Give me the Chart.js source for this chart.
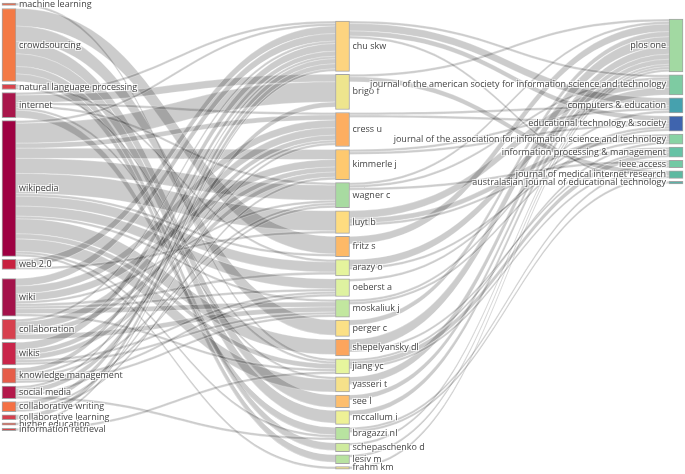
<!DOCTYPE html>
<html><head><meta charset="utf-8">
<script src="https://cdn.jsdelivr.net/npm/chart.js@4.4.1/dist/chart.umd.min.js"></script>
<style>html,body{margin:0;padding:0;background:#fff;}#wrap{width:685px;height:474px;}</style>
</head><body><div id="wrap"><canvas id="c" width="685" height="474"></canvas></div>
<script>
// ---------- DATA ----------
const keywords = ["machine learning","crowdsourcing","natural language processing","internet","wikipedia","web 2.0","wiki","collaboration","wikis","knowledge management","social media","collaborative writing","collaborative learning","higher education","information retrieval"];
const keywordColors = ["#ee6646","#f47a45","#d9434c","#a9164b","#9e0142","#c8213f","#a4124a","#d7404e","#c9254a","#e65d49","#b3194a","#f47044","#d5404e","#e25a49","#d9474b"];

const authors = ["chu skw","brigo f","cress u","kimmerle j","wagner c","luyt b","fritz s","arazy o","oeberst a","moskaliuk j","perger c","shepelyansky dl","jiang yc","yasseri t","see l","mccallum i","bragazzi nl","schepaschenko d","lesiv m","frahm km"];
const authorDocuments = [20,14,13.5,12,10,9,8,6.5,7,7,6.5,6.5,6,6,5,5.5,4.5,3.5,3.5,1];
const authorColors = ["#fdd480","#eee58e","#fdae61","#fec96f","#a8dba1","#fedc80","#fdb967","#e5f49d","#def2a0","#c2e79f","#fbe086","#fca55d","#e6f59d","#f6e18a","#fdbe6d","#eef196","#b8e3a0","#cfeb9e","#b8e2a0","#e8dd8a"];

const sources = ["plos one","journal of the american society for information science and technology","computers & education","educational technology & society","journal of the association for information science and technology","information processing & management","ieee access","journal of medical internet research","australasian journal of educational technology"];
const sourceColors = ["#a2d9a2","#7ecba2","#46a1ae","#3f64ae","#88d3a4","#66c2a5","#73c9a4","#5cb9a0","#5cb1a7"];

// keyword -> author : [keyword, author, value]
const keywordAuthorLinks = [
  ["machine learning","jiang yc",1],
  ["crowdsourcing","fritz s",7],["crowdsourcing","see l",5],["crowdsourcing","mccallum i",5],["crowdsourcing","perger c",6],["crowdsourcing","schepaschenko d",3],["crowdsourcing","lesiv m",3],
  ["natural language processing","jiang yc",1],["natural language processing","arazy o",1],
  ["internet","bragazzi nl",3],["internet","brigo f",3],["internet","chu skw",1],["internet","yasseri t",1],["internet","cress u",1],["internet","wagner c",1],
  ["wikipedia","brigo f",8],["wikipedia","wagner c",6],["wikipedia","luyt b",8],["wikipedia","arazy o",4],["wikipedia","yasseri t",5],["wikipedia","shepelyansky dl",6],["wikipedia","jiang yc",2],["wikipedia","bragazzi nl",1],["wikipedia","frahm km",1],["wikipedia","oeberst a",4],["wikipedia","chu skw",1],["wikipedia","cress u",2],["wikipedia","kimmerle j",4],["wikipedia","fritz s",1],["wikipedia","moskaliuk j",1],
  ["web 2.0","chu skw",3],["web 2.0","luyt b",1],
  ["wiki","chu skw",3],["wiki","cress u",3],["wiki","kimmerle j",3],["wiki","moskaliuk j",2],["wiki","oeberst a",1],["wiki","jiang yc",1],["wiki","arazy o",1],["wiki","wagner c",1],
  ["collaboration","cress u",3],["collaboration","kimmerle j",2],["collaboration","moskaliuk j",2],["collaboration","chu skw",1],
  ["wikis","chu skw",3],["wikis","cress u",2],["wikis","kimmerle j",2],["wikis","moskaliuk j",1],["wikis","oeberst a",1],
  ["knowledge management","chu skw",2],["knowledge management","cress u",1],["knowledge management","wagner c",1],["knowledge management","moskaliuk j",1],["knowledge management","oeberst a",1],
  ["social media","chu skw",1],["social media","brigo f",2],["social media","wagner c",1],["social media","bragazzi nl",1],
  ["collaborative writing","chu skw",2],["collaborative writing","cress u",1],["collaborative writing","kimmerle j",1],
  ["collaborative learning","chu skw",2],
  ["higher education","chu skw",1],
  ["information retrieval","jiang yc",1]
];

// author -> source : [author, source, value]
const authorSourceLinks = [
  ["shepelyansky dl","plos one",4],["frahm km","plos one",1],["yasseri t","plos one",3],["fritz s","plos one",3],["see l","plos one",2],["mccallum i","plos one",2],["perger c","plos one",2],["schepaschenko d","plos one",1],["lesiv m","plos one",1],["brigo f","plos one",1],["wagner c","plos one",1],
  ["luyt b","journal of the american society for information science and technology",3],["arazy o","journal of the american society for information science and technology",3],["chu skw","journal of the american society for information science and technology",1],["wagner c","journal of the american society for information science and technology",1],
  ["chu skw","computers & education",3],["cress u","computers & education",1],["kimmerle j","computers & education",1],["moskaliuk j","computers & education",1],
  ["chu skw","educational technology & society",2],["cress u","educational technology & society",1],["kimmerle j","educational technology & society",1],["moskaliuk j","educational technology & society",1],["oeberst a","educational technology & society",1],
  ["luyt b","journal of the association for information science and technology",2],["arazy o","journal of the association for information science and technology",1],["jiang yc","journal of the association for information science and technology",1],
  ["jiang yc","information processing & management",2],["luyt b","information processing & management",1],["shepelyansky dl","information processing & management",1],
  ["jiang yc","ieee access",1],["wagner c","ieee access",1],["bragazzi nl","ieee access",1],
  ["brigo f","journal of medical internet research",2],["bragazzi nl","journal of medical internet research",1],
  ["chu skw","australasian journal of educational technology",1]
];

// ---------- LAYOUT (value units) ----------
const NODE_W = 14;
const UNIT_PX = 2.515;
const Y_MAX = 474 / UNIT_PX;
const PAD = 3 / UNIT_PX;
const COL_TOP = [3 / UNIT_PX, 21 / UNIT_PX, 19 / UNIT_PX];
const EXTRA_GAP = {"0:wiki": 6 / UNIT_PX};

const columns = [keywords, authors, sources];
const colors = [keywordColors, authorColors, sourceColors];
const nodes = {};
columns.forEach((col, c) => col.forEach((name, i) => {
  nodes[c + ':' + name] = {name, c, i, inV: 0, outV: 0, ins: [], outs: [], size: c === 1 ? authorDocuments[i] : 0};
}));
const links = [];
function addLinks(list, c) {
  list.forEach(([s, t, v]) => {
    const S = nodes[c + ':' + s], T = nodes[(c + 1) + ':' + t];
    const L = {S, T, v};
    S.outV += v; T.inV += v; S.outs.push(L); T.ins.push(L); links.push(L);
  });
}
addLinks(keywordAuthorLinks, 0);
addLinks(authorSourceLinks, 1);

columns.forEach((col, c) => {
  let cur = COL_TOP[c];
  col.forEach(name => {
    const key = c + ':' + name;
    const n = nodes[key];
    cur += EXTRA_GAP[key] || 0;
    n.v = Math.max(n.inV, n.outV, n.size);
    n.y0 = cur; n.y1 = cur + n.v; cur = n.y1 + PAD;
  });
});
Object.values(nodes).forEach(n => {
  n.outs.sort((a, b) => a.T.i - b.T.i);
  n.ins.sort((a, b) => a.S.i - b.S.i);
  let y = n.y0; n.outs.forEach(L => { L.sy0 = y; y += L.v; L.sy1 = y; });
  y = n.y0; n.ins.forEach(L => { L.ty0 = y; y += L.v; L.ty1 = y; });
});

// ---------- CHART ----------
const maxRank = Math.max(...columns.map(c => c.length));
const datasets = [];
for (let k = 0; k < maxRank; k++) {
  datasets.push({
    data: columns.map((col, c) => col[k] ? [nodes[c + ':' + col[k]].y0, nodes[c + ':' + col[k]].y1] : null),
    backgroundColor: columns.map((col, c) => colors[c][k] || 'transparent'),
    borderColor: 'rgba(90,90,90,0.55)',
    borderWidth: 1,
    borderSkipped: false,
    grouped: false,
    clip: false,
    barThickness: NODE_W
  });
}

const linkPlugin = {
  id: 'sankeyLinks',
  beforeDatasetsDraw(chart) {
    const {ctx, scales: {x, y}} = chart;
    const half = NODE_W / 2;
    ctx.save();
    links.forEach(L => {
      const xs = x.getPixelForValue(L.S.c) + half;
      const xt = x.getPixelForValue(L.T.c) - half;
      const ys0 = y.getPixelForValue(L.sy0), ys1 = y.getPixelForValue(L.sy1);
      const yt0 = y.getPixelForValue(L.ty0), yt1 = y.getPixelForValue(L.ty1);
      const xm = (xs + xt) / 2;
      ctx.beginPath();
      ctx.moveTo(xs, ys0);
      ctx.bezierCurveTo(xm, ys0, xm, yt0, xt, yt0);
      ctx.lineTo(xt, yt1);
      ctx.bezierCurveTo(xm, yt1, xm, ys1, xs, ys1);
      ctx.closePath();
      ctx.fillStyle = 'rgba(0,0,0,0.2)';
      ctx.fill();
      ctx.strokeStyle = 'rgba(255,255,255,0.55)';
      ctx.lineWidth = 0.5;
      ctx.stroke();
    });
    ctx.restore();
  }
};

const labelPlugin = {
  id: 'sankeyLabels',
  afterDatasetsDraw(chart) {
    const {ctx, scales: {x, y}} = chart;
    ctx.save();
    ctx.font = '9px "Open Sans", Verdana, Arial, sans-serif';
    ctx.textBaseline = 'middle';
    Object.values(nodes).forEach(n => {
      const last = n.c === columns.length - 1;
      const cx = x.getPixelForValue(n.c);
      const tx = last ? cx - NODE_W / 2 - 3 : cx + NODE_W / 2 + 3;
      const ty = (y.getPixelForValue(n.y0) + y.getPixelForValue(n.y1)) / 2;
      ctx.textAlign = last ? 'right' : 'left';
      ctx.fillStyle = '#fff';
      [[1,1],[-1,-1],[1,-1],[-1,1]].forEach(([dx, dy]) => ctx.fillText(n.name, tx + dx, ty + dy));
      ctx.fillStyle = '#444';
      ctx.fillText(n.name, tx, ty);
    });
    ctx.restore();
  }
};

new Chart(document.getElementById('c'), {
  type: 'bar',
  data: {labels: ['keywords', 'authors', 'sources'], datasets},
  options: {
    responsive: false,
    animation: false,
    devicePixelRatio: 1,
    layout: {padding: {left: 9, right: 9, top: 0, bottom: 0}},
    plugins: {legend: {display: false}, tooltip: {enabled: false}},
    scales: {
      x: {type: 'category', display: false, offset: false, grid: {display: false}},
      y: {type: 'linear', display: false, reverse: true, min: 0, max: Y_MAX, grid: {display: false}}
    }
  },
  plugins: [linkPlugin, labelPlugin]
});
</script>
</body></html>
